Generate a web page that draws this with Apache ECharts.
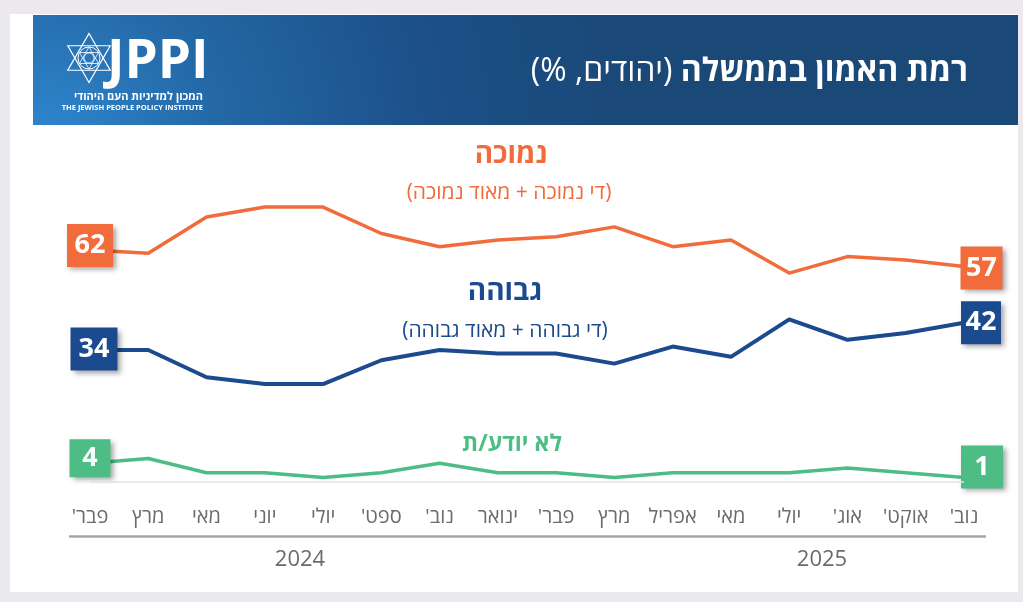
<!DOCTYPE html>
<html>
<head>
<meta charset="utf-8">
<script src="https://cdn.jsdelivr.net/npm/echarts@6/dist/echarts.min.js"></script>
<style>
html,body{margin:0;padding:0;background:#ebe9ee;}
#c{width:1023px;height:602px;direction:rtl;}
</style>
</head>
<body>
<div id="c"></div>
<script>
// ---------- data ----------
const months = ["פבר'", "מרץ", "מאי", "יוני", "יולי", "ספט'", "נוב'", "ינואר", "פבר'", "מרץ", "אפריל", "מאי", "יולי", "אוג'", "אוקט'", "נוב'"];
const years = ["2024", "2025"];
const lowTrust  = [62, 61, 72, 75, 75, 67, 63, 65, 66, 69, 63, 65, 55, 60, 59, 57];
const highTrust = [34, 34, 26, 24, 24, 31, 34, 33, 33, 30, 35, 32, 43, 37, 39, 42];
const dontKnow  = [4, 5, 2, 2, 1, 2, 4, 2, 2, 1, 2, 2, 2, 3, 2, 1];
const seriesNames = ["נמוכה", "גבוהה", "לא יודע/ת"];
const seriesNotes = ["(די נמוכה + מאוד נמוכה)", "(די גבוהה + מאוד גבוהה)"];
const titleBold = "רמת האמון בממשלה";
const titleNormal = "(יהודים, %)";
const logoText = "JPPI";
const logoHeb = "המכון למדיניות העם היהודי";
const logoEng = "THE JEWISH PEOPLE POLICY INSTITUTE";

// ---------- style ----------
const F = "'Open Sans', 'DejaVu Sans', sans-serif";
const ORANGE = '#f26b3a', BLUE = '#1b4a8e', GREEN = '#4dbd85';
const last = months.length - 1;

function boxLabel(color, offset, w, h) {
  return {
    show: true, position: 'inside', offset: offset, formatter: '{c}',
    backgroundColor: color, color: '#fff', fontFamily: F, fontSize: 27, fontWeight: 'bold',
    width: w, height: h, lineHeight: h, align: 'center', verticalAlign: 'middle', padding: 0,
    shadowColor: 'rgba(0,0,0,0.35)', shadowBlur: 5, shadowOffsetX: 3, shadowOffsetY: 3
  };
}
function withEnds(arr, color, leftOff, rightOff, leftSize, rightSize) {
  return arr.map((v, i) => {
    if (i === 0) return { value: v, label: boxLabel(color, leftOff, leftSize[0], leftSize[1]) };
    if (i === last) return { value: v, label: boxLabel(color, rightOff, rightSize[0], rightSize[1]) };
    return v;
  });
}

// star of David points for logo
function tri(cx, cy, r, rot) {
  const p = [];
  for (let k = 0; k < 3; k++) {
    const a = rot + k * 2 * Math.PI / 3;
    p.push([cx + r * Math.sin(a), cy - r * Math.cos(a)]);
  }
  return p;
}
const sc = [89, 58], sr = 24.5;

const chart = echarts.init(document.getElementById('c'), null, { renderer: 'canvas' });
const option = {
  animation: false,
  backgroundColor: 'transparent',
  grid: { left: 90, right: 59, top: 140, bottom: 66, containLabel: false },
  xAxis: {
    type: 'category', data: months, boundaryGap: false,
    axisLine: { show: false }, axisTick: { show: false }, splitLine: { show: false },
    axisLabel: { inside: true, interval: 0, margin: 9, fontSize: 20, color: '#6b6b6b', fontFamily: F }
  },
  yAxis: [
    { type: 'value', show: false, min: -24.667, max: 95.333, splitLine: { show: false } },
    { type: 'value', show: false, min: -20.545, max: 95.584, splitLine: { show: false } },
    { type: 'value', show: false, min: -11.374, max: 72.347, splitLine: { show: false } }
  ],
  series: [
    {
      name: seriesNames[0], type: 'line', yAxisIndex: 0, z: 3,
      symbol: 'circle', symbolSize: 0.1, showSymbol: true, showAllSymbol: true,
      lineStyle: { color: ORANGE, width: 3.5 }, itemStyle: { color: ORANGE },
      data: withEnds(lowTrust, ORANGE, [0, -4.5], [17.5, 1.5], [46, 43], [42, 43])
    },
    {
      name: seriesNames[1], type: 'line', yAxisIndex: 1, z: 3,
      symbol: 'circle', symbolSize: 0.1, showSymbol: true, showAllSymbol: true,
      lineStyle: { color: BLUE, width: 4 }, itemStyle: { color: BLUE },
      data: withEnds(highTrust, BLUE, [4, -1], [17, 0], [47, 43], [40, 43])
    },
    {
      name: seriesNames[2], type: 'line', yAxisIndex: 2, z: 3,
      symbol: 'circle', symbolSize: 0.1, showSymbol: true, showAllSymbol: true,
      lineStyle: { color: GREEN, width: 3.5 }, itemStyle: { color: GREEN },
      data: withEnds(dontKnow, GREEN, [0, -5], [18, -10.5], [41, 38], [42, 43]),
      markLine: {
        silent: true, symbol: 'none', label: { show: false },
        lineStyle: { color: '#e2e2e2', width: 1.5, type: 'solid' },
        data: [{ yAxis: 0 }]
      }
    }
  ],
  graphic: [
    { type: 'rect', z: -10, shape: { x: 10, y: 14, width: 1008, height: 578 }, style: { fill: '#ffffff' } },
    { type: 'rect', z: -9, shape: { x: 33, y: 15, width: 985, height: 110 },
      style: { fill: new echarts.graphic.RadialGradient(40, 150, 600, [
        { offset: 0, color: '#2f88d0' }, { offset: 0.3, color: '#2468a6' },
        { offset: 0.65, color: '#1c5088' }, { offset: 1, color: '#1a4877' }], true) } },
    // logo star
    { type: 'polygon', z: -8, shape: { points: tri(sc[0], sc[1], sr, 0) }, style: { fill: 'none', stroke: '#fff', lineWidth: 1.2 } },
    { type: 'polygon', z: -8, shape: { points: tri(sc[0], sc[1], sr, Math.PI) }, style: { fill: 'none', stroke: '#fff', lineWidth: 1.2 } },
    { type: 'circle', z: -8, shape: { cx: sc[0], cy: sc[1], r: 11 }, style: { fill: 'none', stroke: '#fff', lineWidth: 1 } },
    { type: 'polygon', z: -8, shape: { points: tri(sc[0], sc[1], 11, 0) }, style: { fill: 'none', stroke: '#fff', lineWidth: 0.8 } },
    { type: 'polygon', z: -8, shape: { points: tri(sc[0], sc[1], 11, Math.PI) }, style: { fill: 'none', stroke: '#fff', lineWidth: 0.8 } },
    { type: 'circle', z: -8, shape: { cx: sc[0], cy: sc[1], r: 5 }, style: { fill: 'none', stroke: '#fff', lineWidth: 0.8 } },
    { type: 'text', z: -7, style: { text: logoText, x: 107, y: 63, align: 'left', verticalAlign: 'middle',
      fill: '#fff', font: 'bold 53px ' + F } },
    { type: 'text', z: -7, style: { text: logoHeb, x: 203, y: 97, align: 'right', verticalAlign: 'middle',
      fill: '#fff', font: 'bold 11px ' + F } },
    { type: 'text', z: -7, style: { text: logoEng, x: 203, y: 108, align: 'right', verticalAlign: 'middle',
      fill: '#fff', font: 'bold 7.5px ' + F } },
    // title
    { type: 'text', z: -7, style: {
      text: '{n|' + titleNormal + '} {b|' + titleBold + '}', x: 968, y: 72, align: 'right', verticalAlign: 'middle',
      rich: {
        n: { fill: '#fff', fontSize: 32, fontFamily: F, fontWeight: 'normal' },
        b: { fill: '#fff', fontSize: 32, fontFamily: F, fontWeight: 'bold' }
      }, fill: '#fff', fontSize: 32, fontFamily: F } },
    // series titles
    { type: 'text', style: { text: seriesNames[0], x: 511, y: 155, align: 'center', verticalAlign: 'middle', fill: ORANGE, font: 'bold 28px ' + F } },
    { type: 'text', style: { text: seriesNotes[0], x: 509, y: 193, align: 'center', verticalAlign: 'middle', fill: ORANGE, font: '21px ' + F } },
    { type: 'text', style: { text: seriesNames[1], x: 505, y: 292, align: 'center', verticalAlign: 'middle', fill: BLUE, font: 'bold 28px ' + F } },
    { type: 'text', style: { text: seriesNotes[1], x: 505, y: 331, align: 'center', verticalAlign: 'middle', fill: BLUE, font: '21px ' + F } },
    { type: 'text', style: { text: seriesNames[2], x: 512, y: 444, align: 'center', verticalAlign: 'middle', fill: GREEN, font: 'bold 23px ' + F } },
    // axis line
    { type: 'line', shape: { x1: 69, y1: 536.5, x2: 986, y2: 536.5 }, style: { stroke: '#a6a6a6', lineWidth: 2.5 } },
    // years
    { type: 'text', style: { text: years[0], x: 300, y: 560, align: 'center', verticalAlign: 'middle', fill: '#6b6b6b', font: '22px ' + F } },
    { type: 'text', style: { text: years[1], x: 822, y: 560, align: 'center', verticalAlign: 'middle', fill: '#6b6b6b', font: '22px ' + F } }
  ]
};
chart.setOption(option);
</script>
</body>
</html>
